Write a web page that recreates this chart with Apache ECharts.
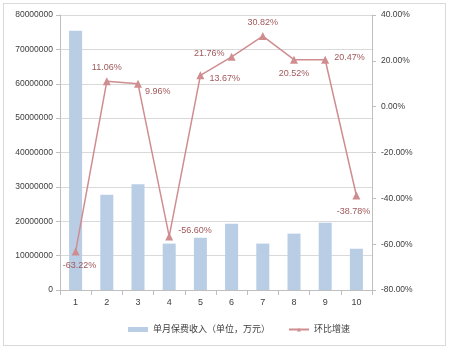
<!DOCTYPE html>
<html>
<head>
<meta charset="utf-8">
<script src="https://cdn.jsdelivr.net/npm/echarts@6/dist/echarts.min.js"></script>
<style>
    html, body { margin: 0; padding: 0; background: #fff; }
    #frame {
        position: absolute; left: 3px; top: 3px; width: 443px; height: 343px;
        border: 1px solid #d9d9d9; box-sizing: border-box;
    }
    #chart { width: 449px; height: 350px; }
</style>
</head>
<body>
<div id="frame"></div>
<div id="chart"></div>
<script>
    const months = ['1', '2', '3', '4', '5', '6', '7', '8', '9', '10'];
    const premium = [75400000, 27700000, 30800000, 13500000, 15200000, 19300000, 13500000, 16400000, 19600000, 12000000];
    const growth = [-63.22, 11.06, 9.96, -56.60, 13.67, 21.76, 30.82, 20.52, 20.47, -38.78];
    const labelPos = ['bottom', 'top', 'right', 'right', 'right', 'left', 'top', 'bottom', 'right', 'bottom'];
    const labelShift = [[4, 0], [0, 0], [-2, 8], [0, -6], [0, 3], [2, -3], [0, 0], [0, 0], [0, -2], [-3, 2]];
    const leftTicks = [0, 10000000, 20000000, 30000000, 40000000, 50000000, 60000000, 70000000, 80000000];
    const rightTicks = [-80, -60, -40, -20, 0, 20, 40];

    const lineColor = '#D08D90';
    const labelColor = '#A0585B';
    const axisText = '#404040';

    const chart = echarts.init(document.getElementById('chart'));
    chart.setOption({
        animation: false,
        textStyle: { fontFamily: 'Liberation Sans, Noto Sans CJK SC' },
        grid: { left: 60, right: 77, top: 15, bottom: 60 },
        legend: {
            bottom: 11,
            left: 123,
            itemGap: 18,
            itemWidth: 20,
            itemHeight: 5,
            textStyle: { fontSize: 9, color: axisText },
            data: [
                { name: '单月保费收入（单位，万元）', icon: 'rect' },
                { name: '环比增速' }
            ]
        },
        xAxis: {
            type: 'category',
            data: months,
            axisLine: { lineStyle: { color: '#bfbfbf' } },
            axisTick: { show: true, lineStyle: { color: '#bfbfbf' } },
            axisLabel: { color: axisText, fontSize: 9, margin: 8 }
        },
        yAxis: [
            {
                type: 'value',
                min: leftTicks[0],
                max: leftTicks[leftTicks.length - 1],
                interval: 10000000,
                axisLine: { show: true, lineStyle: { color: '#bfbfbf' } },
                axisTick: { show: true, length: 4, lineStyle: { color: '#bfbfbf' } },
                axisLabel: {
                    color: axisText, fontSize: 8.5, margin: 7,
                    formatter: (v) => String(v)
                },
                splitLine: { lineStyle: { color: '#d9d9d9' } }
            },
            {
                type: 'value',
                min: rightTicks[0],
                max: rightTicks[rightTicks.length - 1],
                interval: 20,
                axisLine: { show: true, lineStyle: { color: '#bfbfbf' } },
                axisTick: { show: true, length: 4, lineStyle: { color: '#bfbfbf' } },
                axisLabel: {
                    color: axisText, fontSize: 8.5, margin: 9,
                    formatter: (v) => v.toFixed(2) + '%'
                },
                splitLine: { show: false }
            }
        ],
        series: [
            {
                name: '单月保费收入（单位，万元）',
                type: 'bar',
                data: premium,
                barWidth: 13,
                itemStyle: { color: '#B9CDE5' }
            },
            {
                name: '环比增速',
                type: 'line',
                yAxisIndex: 1,
                symbol: 'triangle',
                symbolSize: 8,
                lineStyle: { color: lineColor, width: 1.5 },
                itemStyle: { color: lineColor },
                data: growth.map((v, i) => ({
                    value: v,
                    label: {
                        show: true,
                        position: labelPos[i],
                        offset: labelShift[i],
                        distance: 5,
                        color: labelColor,
                        fontSize: 9,
                        formatter: (p) => p.value.toFixed(2) + '%'
                    }
                }))
            }
        ]
    });
</script>
</body>
</html>
